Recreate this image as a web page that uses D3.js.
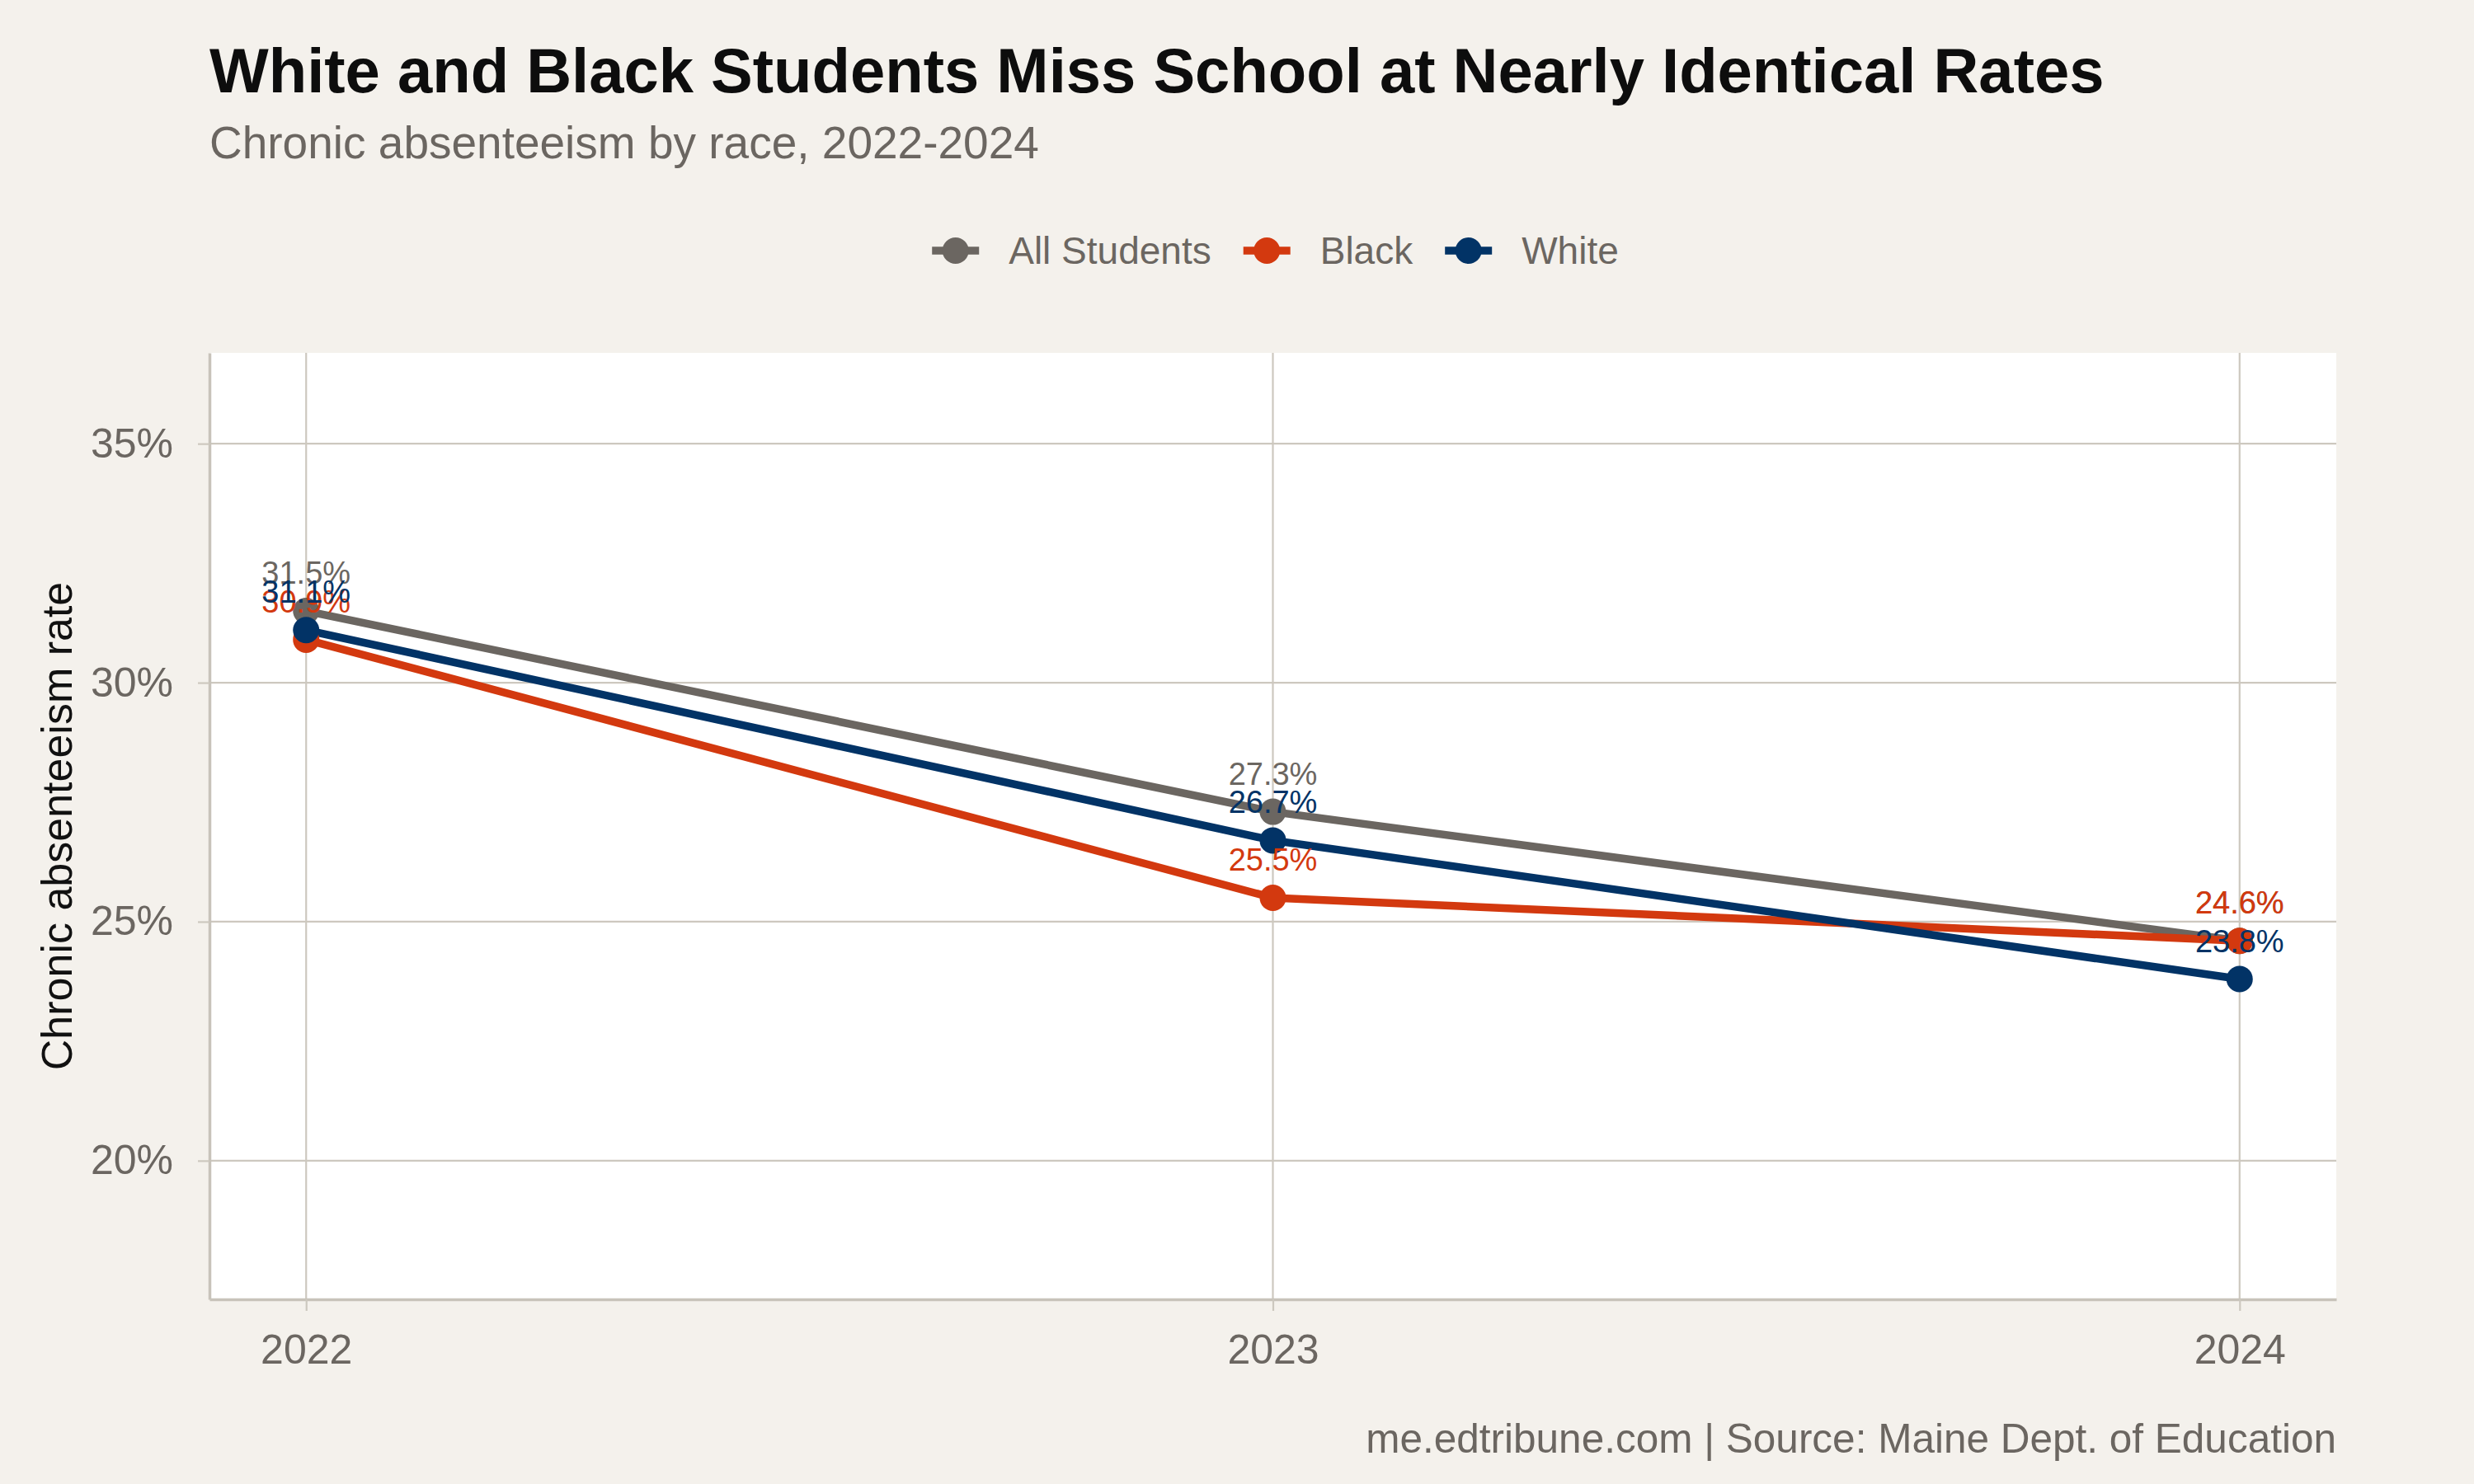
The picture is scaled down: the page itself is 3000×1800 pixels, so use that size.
<!DOCTYPE html>
<html>
<head>
<meta charset="utf-8">
<script src="https://cdn.jsdelivr.net/npm/d3@7"></script>
<style>
  body { margin: 0; background: #f4f1ec; }
  text { font-family: "Liberation Sans", Arial, sans-serif; }
</style>
</head>
<body>
<script>
// chart data
const years = [2022, 2023, 2024];
const groups = ["All Students", "Black", "White"];
const allStudents = [31.5, 27.3, 24.6];
const black = [30.9, 25.5, 24.6];
const white = [31.1, 26.7, 23.8];
const yTicks = [20, 25, 30, 35];

const colors = ["#6b6661", "#d3390f", "#023366"];
const series = [allStudents, black, white].map((vals, i) => ({
  name: groups[i],
  color: colors[i],
  values: vals.map((v, j) => ({ year: years[j], value: v }))
}));

const W = 3000, H = 1800;
const panel = { left: 254, right: 2833, top: 428, bottom: 1576 };
const grey = "#6b6661", gridCol = "#cdc8bf";

const svg = d3.select("body").append("svg")
  .attr("width", W).attr("height", H);

svg.append("rect").attr("width", W).attr("height", H).attr("fill", "#f4f1ec");
svg.append("rect")
  .attr("x", panel.left).attr("y", panel.top)
  .attr("width", panel.right - panel.left).attr("height", panel.bottom - panel.top)
  .attr("fill", "#ffffff");

const x = d3.scaleLinear()
  .domain([2022 - 0.1, 2024 + 0.1])
  .range([panel.left, panel.right]);
const y = d3.scaleLinear()
  .domain([17.1, 36.9])
  .range([panel.bottom, panel.top]);

// grid
svg.append("g").selectAll("line").data(yTicks).join("line")
  .attr("x1", panel.left).attr("x2", panel.right)
  .attr("y1", d => y(d)).attr("y2", d => y(d))
  .attr("stroke", gridCol).attr("stroke-width", 2.2);
svg.append("g").selectAll("line").data(years).join("line")
  .attr("x1", d => x(d)).attr("x2", d => x(d))
  .attr("y1", panel.top).attr("y2", panel.bottom)
  .attr("stroke", gridCol).attr("stroke-width", 2.2);

// axes
const yAxis = svg.append("g")
  .attr("transform", `translate(${panel.left},0)`)
  .call(d3.axisLeft(y).tickValues(yTicks).tickSize(14).tickSizeOuter(0)
    .tickPadding(30).tickFormat(d => d + "%"));
const xAxis = svg.append("g")
  .attr("transform", `translate(0,${panel.bottom})`)
  .call(d3.axisBottom(x).tickValues(years).tickSize(14).tickSizeOuter(0)
    .tickPadding(28).tickFormat(d3.format("d")));
[yAxis, xAxis].forEach(g => {
  g.select(".domain").attr("stroke", "#c8c3ba").attr("stroke-width", 3.5);
  g.selectAll(".tick line").attr("stroke", gridCol).attr("stroke-width", 2.2);
  g.selectAll(".tick text").attr("fill", grey).attr("font-size", 50)
    .style("font-family", "Liberation Sans, Arial, sans-serif");
});

// lines
const line = d3.line().x(d => x(d.year)).y(d => y(d.value));
svg.append("g").selectAll("path").data(series).join("path")
  .attr("d", d => line(d.values))
  .attr("fill", "none")
  .attr("stroke", d => d.color)
  .attr("stroke-width", 9.5)
  .attr("stroke-linejoin", "round");

// points
svg.append("g").selectAll("g").data(series).join("g")
  .attr("fill", d => d.color)
  .selectAll("circle").data(d => d.values).join("circle")
  .attr("cx", d => x(d.year)).attr("cy", d => y(d.value)).attr("r", 16);

// value labels
svg.append("g").selectAll("g").data(series).join("g")
  .attr("fill", d => d.color)
  .selectAll("text").data(d => d.values).join("text")
  .attr("x", d => x(d.year)).attr("y", d => y(d.value) - 33)
  .attr("text-anchor", "middle").attr("font-size", 38)
  .text(d => d.value.toFixed(1) + "%");

// titles
svg.append("text").attr("x", 254).attr("y", 112)
  .attr("font-size", 76).attr("font-weight", "bold").attr("fill", "#0d0d0d")
  .text("White and Black Students Miss School at Nearly Identical Rates");
svg.append("text").attr("x", 254).attr("y", 192)
  .attr("font-size", 55).attr("fill", grey)
  .text("Chronic absenteeism by race, 2022-2024");

svg.append("text")
  .attr("transform", `translate(69,${(panel.top + panel.bottom) / 2}) rotate(-90)`)
  .attr("text-anchor", "middle").attr("dominant-baseline", "central")
  .attr("font-size", 52).attr("fill", "#111")
  .text("Chronic absenteeism rate");

svg.append("text").attr("x", panel.right).attr("y", 1762)
  .attr("text-anchor", "end").attr("font-size", 49.5).attr("fill", grey)
  .text("me.edtribune.com | Source: Maine Dept. of Education");

// legend
const legend = svg.append("g");
const legY = 304, keyW = 57, keyGap = 36, itemGap = 39;
let cx = 0;
series.forEach(s => {
  const g = legend.append("g");
  g.append("line").attr("x1", 0).attr("x2", keyW).attr("y1", legY).attr("y2", legY)
    .attr("stroke", s.color).attr("stroke-width", 9.5);
  g.append("circle").attr("cx", keyW / 2).attr("cy", legY).attr("r", 16).attr("fill", s.color);
  const t = g.append("text").attr("x", keyW + keyGap).attr("y", legY)
    .attr("dominant-baseline", "central").attr("font-size", 46).attr("fill", grey)
    .text(s.name);
  const w = keyW + keyGap + t.node().getComputedTextLength();
  g.attr("transform", `translate(${cx},0)`);
  cx += w + itemGap;
});
const legW = cx - itemGap;
legend.attr("transform", `translate(${1546.5 - legW / 2},0)`);
</script>
</body>
</html>
